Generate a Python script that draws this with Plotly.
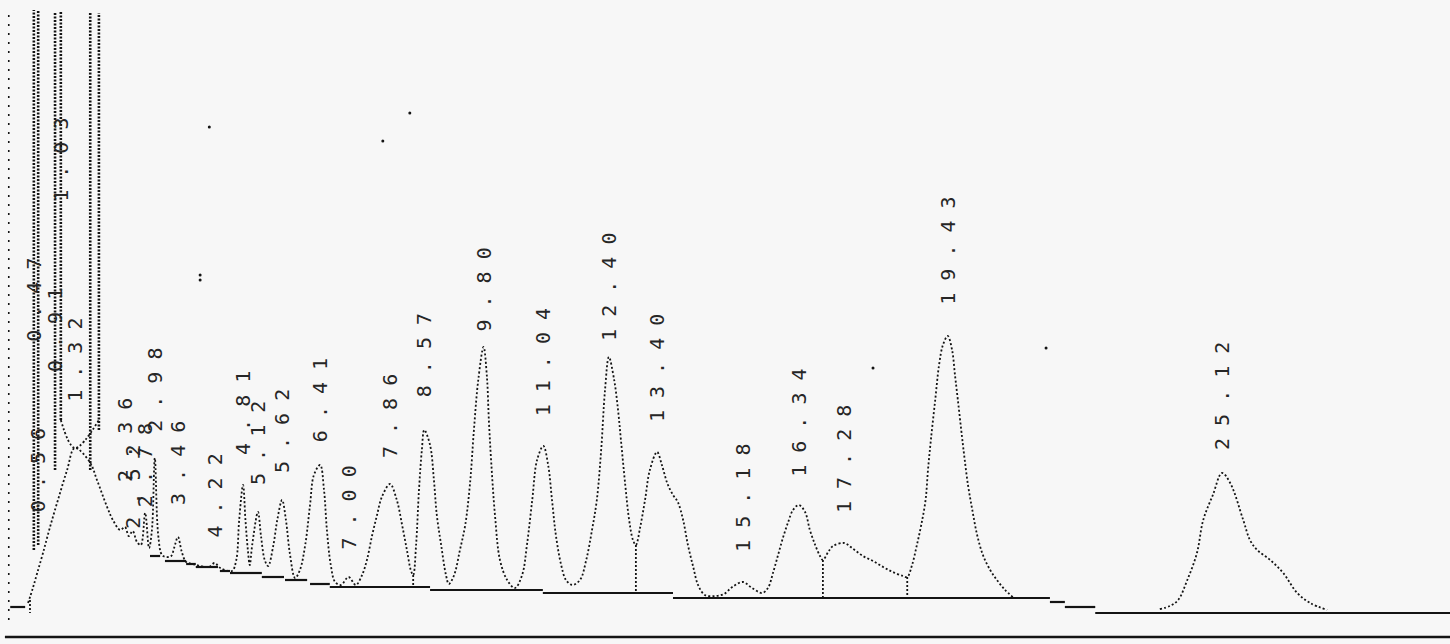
import plotly.graph_objects as go

# ---- detector trace (retention time in min, signal in detector counts) ----
time_min = [
    0.35, 0.45, 0.54, 0.66, 0.80, 0.97, 1.16, 1.32, 1.63, 1.78, 1.99, 2.11, 2.26, 2.36, 2.44,
    2.52, 2.61, 2.69, 2.78, 2.86, 2.92, 2.98, 3.05, 3.13, 3.23, 3.32, 3.38, 3.46, 3.54, 3.63,
    3.77, 3.92, 4.10, 4.22, 4.34, 4.58, 4.67, 4.73, 4.81, 4.86, 4.91, 4.95, 5.00, 5.12, 5.18,
    5.26, 5.33, 5.44, 5.52, 5.62, 5.70, 5.78, 5.89, 5.99, 6.10, 6.20, 6.28, 6.41, 6.49, 6.55,
    6.63, 6.72, 6.84, 7.00, 7.15, 7.28, 7.38, 7.49, 7.59, 7.69, 7.86, 8.00, 8.11, 8.21, 8.29,
    8.34, 8.40, 8.46, 8.52, 8.57, 8.69, 8.77, 8.83, 8.92, 9.02, 9.08, 9.19, 9.31, 9.42, 9.52,
    9.60, 9.69, 9.80, 9.87, 9.91, 9.96, 10.04, 10.14, 10.29, 10.45, 10.60, 10.70, 10.81, 10.91,
    11.04, 11.14, 11.22, 11.30, 11.41, 11.51, 11.64, 11.80, 11.93, 12.05, 12.15, 12.24, 12.32,
    12.40, 12.51, 12.59, 12.65, 12.74, 12.82, 12.90, 12.96, 13.05, 13.15, 13.25, 13.40, 13.50,
    13.61, 13.73, 13.83, 13.94, 14.04, 14.15, 14.25, 14.39, 14.60, 14.79, 14.96, 15.18, 15.37,
    15.58, 15.70, 15.81, 15.91, 16.01, 16.12, 16.22, 16.34, 16.47, 16.57, 16.68, 16.78, 16.84,
    16.95, 17.05, 17.28, 17.47, 17.67, 17.88, 18.09, 18.29, 18.50, 18.59, 18.69, 18.79, 18.88,
    18.97, 19.02, 19.08, 19.17, 19.25, 19.33, 19.43, 19.52, 19.58, 19.64, 19.71, 19.77, 19.85,
    19.94, 20.04, 20.16, 20.31, 20.45, 20.62, 20.78,
]
signal = [
    34, 49, 64, 84, 109, 137, 167, 189, 175, 157, 130, 117, 107, 110, 101,
    106, 95, 92, 124, 89, 107, 179, 102, 82, 80, 81, 89, 100, 85, 75,
    73, 71, 70, 74, 69, 66, 77, 117, 152, 117, 87, 72, 92, 125, 102,
    77, 71, 92, 117, 137, 117, 84, 59, 67, 92, 132, 162, 172, 147, 107,
    72, 55, 52, 60, 52, 62, 77, 102, 122, 140, 153, 137, 112, 87, 67,
    62, 92, 147, 187, 207, 192, 157, 122, 92, 62, 53, 62, 87, 112, 154,
    207, 257, 290, 260, 217, 174, 120, 77, 57, 49, 62, 92, 137, 177,
    191, 172, 137, 102, 72, 57, 52, 57, 77, 107, 137, 187, 247,
    280, 257, 227, 197, 152, 117, 97, 92, 110, 137, 167, 185, 172,
    154, 142, 135, 117, 92, 70, 52, 42, 41, 43, 50, 55, 49,
    44, 49, 65, 82, 99, 115, 127, 132, 125, 107, 92, 81, 77,
    85, 91, 94, 88, 81, 76, 70, 65, 61, 60, 72, 92, 112,
    137, 167, 197, 237, 272, 292, 301, 287, 262, 237, 207, 182, 152,
    127, 102, 82, 67, 57, 47, 40,
]

# late-eluting peak, recorded after the long flat stretch
time_late = [23.83, 24.04, 24.21, 24.40, 24.60, 24.73, 24.93, 25.12, 25.29, 25.56, 25.70,
             25.85, 26.12, 26.39, 26.68, 26.95, 27.30]
signal_late = [28, 31, 37, 57, 84, 117, 142, 164, 154, 117, 97,
               87, 77, 64, 44, 34, 27]

# second pen stroke crossing the solvent front apex
cross_time = [1.03, 1.32, 1.82]
cross_signal = [217, 189, 217]

# peaks annotated with their retention times, and the label heights
peak_times = [1.32, 2.36, 2.52, 2.78, 2.98, 3.46, 4.22, 4.81, 5.12, 5.62, 6.41, 7.00, 7.86,
              8.57, 9.80, 11.04, 12.40, 13.40, 15.18, 16.34, 17.28, 19.43, 25.12]
label_level = [277, 197, 150, 172, 247, 174, 141, 224, 194, 206, 237, 129, 221,
               282, 347, 275, 350, 269, 139, 214, 178, 386, 241]

# off-scale solvent peaks (drawn as clipped verticals)
offscale_times = [-0.05, 0.47, 0.56, 0.91, 1.03, 1.64, 1.82]
offscale_low = [17, 87, 92, 167, 217, 167, 207]
offscale_high = [629, 627, 627, 625, 625, 624, 624]
offscale_labels = [0.47, 0.56, 0.91, 1.03]
offscale_label_level = [337, 167, 307, 477]

# integrator baseline segments
base_start = [-0.02, 2.88, 3.19, 3.63, 3.83, 4.33, 4.54, 5.20, 5.68, 6.20, 6.61, 8.69,
              11.03, 13.73, 21.55, 21.86, 22.49]
base_end = [0.29, 3.09, 3.63, 3.83, 4.29, 4.54, 5.20, 5.66, 6.14, 6.61, 8.69, 11.03,
            13.73, 21.55, 21.86, 22.49, 29.85]
base_level = [30, 81, 76, 73, 70, 66, 64, 60, 57, 53, 50, 47, 44, 39, 35, 30, 24]

# perpendicular drops from valleys to baseline
drop_times = [0.39, 8.34, 12.96, 16.84, 18.59]
drop_top = [37, 62, 92, 77, 60]
drop_bottom = [24, 50, 44, 39, 39]

# stray printer dots
speck_times = [4.11, 8.27, 7.71, 3.92, 3.92, 17.88, 21.47]
speck_signal = [510, 524, 496, 362, 357, 269, 289]

INK = "#141414"
PAPER = "#f7f7f7"

fig = go.Figure()

# chart frame line along the bottom
fig.add_trace(go.Scatter(x=[-0.13, 29.85], y=[0, 0], mode="lines",
                         line=dict(color=INK, width=2.4), hoverinfo="skip"))

# baseline steps
bx, by = [], []
for a, b, v in zip(base_start, base_end, base_level):
    bx += [a, b, None]
    by += [v, v, None]
fig.add_trace(go.Scatter(x=bx, y=by, mode="lines",
                         line=dict(color=INK, width=2.2), hoverinfo="skip"))

# drop lines
dx, dy = [], []
for t, a, b in zip(drop_times, drop_top, drop_bottom):
    dx += [t, t, None]
    dy += [a, b, None]
fig.add_trace(go.Scatter(x=dx, y=dy, mode="lines",
                         line=dict(color=INK, width=1.8, dash="2px,2px"), hoverinfo="skip"))

# off-scale verticals
for i, (t, lo, hi) in enumerate(zip(offscale_times, offscale_low, offscale_high)):
    faint = i == 0
    fig.add_trace(go.Scatter(x=[t, t], y=[lo, hi], mode="lines",
                             line=dict(color=INK, width=1.6 if faint else 2.6,
                                       dash="2px,7px" if faint else "2px,1.5px"),
                             hoverinfo="skip"))

# chromatogram trace
for xs, ys in ((time_min, signal), (time_late, signal_late), (cross_time, cross_signal)):
    fig.add_trace(go.Scatter(x=xs, y=ys, mode="lines", line_shape="spline",
                             line=dict(color=INK, width=1.8, dash="2px,2.2px"),
                             hoverinfo="skip"))

fig.add_trace(go.Scatter(x=speck_times, y=speck_signal, mode="markers",
                         marker=dict(color=INK, size=3), hoverinfo="skip"))

# retention-time labels, printed sideways
label_font = dict(family="DejaVu Sans Mono", size=20, color="#262626")
for t, lvl in list(zip(peak_times, label_level)) + list(zip(offscale_labels, offscale_label_level)):
    fig.add_annotation(x=t, y=lvl, text=" ".join(f"{t:.2f}"), showarrow=False,
                       textangle=-90, font=label_font, xanchor="center", yanchor="middle")

fig.update_layout(
    width=1450, height=644,
    margin=dict(l=0, r=0, t=0, b=0),
    paper_bgcolor=PAPER, plot_bgcolor=PAPER,
    showlegend=False,
    xaxis=dict(range=[-0.232, 29.85], visible=False, fixedrange=True),
    yaxis=dict(range=[-7, 637], visible=False, fixedrange=True),
)

fig.write_html("out.html")
